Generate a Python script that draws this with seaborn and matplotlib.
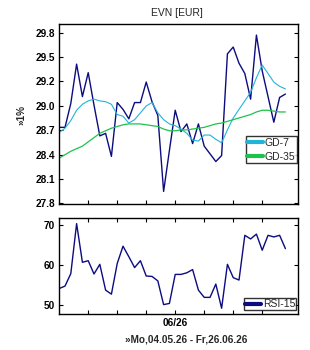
import numpy as np
import matplotlib.pyplot as plt
import seaborn as sns

# trading days 04.05.26 - 26.06.26
days = np.arange(40)

price = [28.69, 28.69, 28.97, 29.43, 29.05, 29.33, 28.95, 28.59, 28.62, 28.35,
         28.98, 28.90, 28.79, 28.98, 28.98, 29.22, 28.99, 28.83, 27.94, 28.42,
         28.89, 28.64, 28.73, 28.50, 28.73, 28.47, 28.38, 28.29, 28.36, 29.55,
         29.63, 29.44, 29.32, 29.02, 29.77, 29.35, 29.05, 28.75, 29.04, 29.08]

gd7 = [28.63, 28.68, 28.77, 28.89, 28.96, 29.00, 29.02, 29.00, 28.99, 28.96,
       28.84, 28.82, 28.74, 28.78, 28.86, 28.94, 28.98, 28.86, 28.78, 28.73,
       28.71, 28.67, 28.62, 28.54, 28.53, 28.60, 28.60, 28.55, 28.51, 28.66,
       28.80, 28.90, 29.00, 29.10, 29.27, 29.42, 29.32, 29.22, 29.17, 29.14]

gd35 = [28.33, 28.37, 28.41, 28.44, 28.47, 28.52, 28.57, 28.62, 28.65, 28.68,
        28.70, 28.72, 28.73, 28.73, 28.73, 28.72, 28.71, 28.70, 28.67, 28.65,
        28.65, 28.66, 28.66, 28.67, 28.68, 28.69, 28.71, 28.73, 28.74, 28.76,
        28.78, 28.80, 28.82, 28.84, 28.87, 28.89, 28.89, 28.88, 28.87, 28.87]

rsi = [54.2, 54.8, 57.9, 70.3, 60.7, 61.1, 57.8, 60.2, 53.8, 52.8,
       60.4, 64.7, 62.1, 59.4, 61.1, 57.3, 57.2, 56.1, 50.2, 50.5,
       57.7, 57.7, 58.1, 58.9, 53.8, 52.0, 52.0, 55.3, 49.3, 60.2,
       56.9, 56.3, 67.4, 66.5, 67.7, 63.7, 67.4, 67.0, 67.4, 64.1]

price_ticks = ["27.8", "28.1", "28.4", "28.7", "29.0", "29.2", "29.5", "29.8"]
rsi_ticks = [50, 60, 70]
week_ticks = [5, 10, 15, 20, 25, 30, 35]

navy = "#0c0c80"
cyan = "#22b4d6"
green = "#1ec24a"

sns.set_style("ticks")
plt.rcParams['font.family'] = ['Liberation Sans', 'DejaVu Sans']

fig = plt.figure(figsize=(3.1, 3.5), dpi=100)
ax1 = fig.add_axes([0.191, 0.416, 0.769, 0.515])
ax2 = fig.add_axes([0.191, 0.102, 0.769, 0.274])

# price panel
sns.lineplot(x=days, y=price, ax=ax1, color=navy, lw=1.0)
sns.lineplot(x=days, y=gd7, ax=ax1, color=cyan, lw=0.8, label="GD-7")
sns.lineplot(x=days, y=gd35, ax=ax1, color=green, lw=0.9, label="GD-35")

ax1.set_xlim(0, 41.1)
ax1.set_ylim(27.788, 29.898)
ax1.set_yticks([27.8 + k * 2 / 7 for k in range(8)])
ax1.set_yticklabels(price_ticks, fontweight="bold")
ax1.set_xticks(week_ticks)
ax1.set_xticklabels([])
ax1.tick_params(direction="in", length=3, width=0.8, pad=3, labelsize=7.2,
                right=True, colors="black")
ax1.set_xlabel("")
ax1.set_ylabel("")

leg = ax1.legend(loc="upper left", bbox_to_anchor=(0.782, 0.377), frameon=True,
                 fancybox=False, edgecolor="black", fontsize=7.5,
                 handlelength=1.5, handletextpad=0.2, borderpad=0.15,
                 labelspacing=0.35, borderaxespad=0)
leg.get_frame().set_linewidth(1.0)
for h in leg.legend_handles:
    h.set_linewidth(3)

# RSI panel
sns.lineplot(x=days, y=rsi, ax=ax2, color=navy, lw=1.0, label="RSI-15")
ax2.set_xlim(0, 41.1)
ax2.set_ylim(47.8, 71.6)
ax2.set_yticks(rsi_ticks)
ax2.set_yticklabels([str(v) for v in rsi_ticks], fontweight="bold")
ax2.set_xticks(week_ticks)
ax2.set_xticklabels(["", "", "", "06/26", "", "", ""], fontweight="bold")
ax2.tick_params(direction="in", length=3, width=0.8, pad=3, labelsize=7.2,
                right=True, top=True, colors="black")
ax2.set_xlabel("")
ax2.set_ylabel("")

leg2 = ax2.legend(loc="upper left", bbox_to_anchor=(0.775, 0.167), frameon=True,
                  fancybox=False, edgecolor="black", fontsize=7.5,
                  handlelength=1.5, handletextpad=0.2, borderpad=0.1,
                  borderaxespad=0)
leg2.get_frame().set_linewidth(1.0)
for h in leg2.legend_handles:
    h.set_linewidth(3)

for ax in (ax1, ax2):
    for s in ax.spines.values():
        s.set_visible(True)
        s.set_color("black")
        s.set_linewidth(1.0)

fig.text(0.57, 1 - 13 / 350, "EVN [EUR]", ha="center", va="center", fontsize=7.5)
fig.text(21 / 310, 1 - 115 / 350, "»1%", ha="center", va="center",
         rotation=90, fontsize=7.2, fontweight="bold")
fig.text(186 / 310, 1 - 339 / 350, "»Mo,04.05.26 - Fr,26.06.26", ha="center",
         va="center", fontsize=7.2, fontweight="bold")

fig.savefig("out.png", dpi=100)
